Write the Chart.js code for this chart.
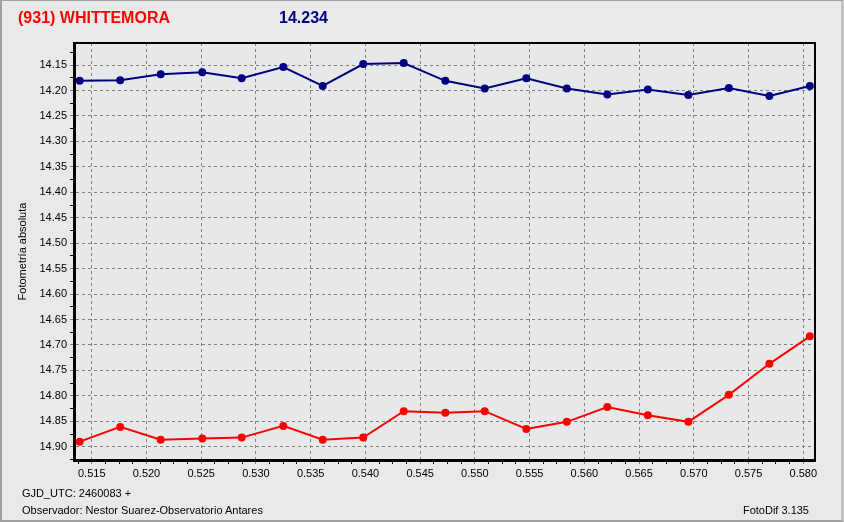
<!DOCTYPE html>
<html>
<head>
<meta charset="utf-8">
<script src="https://cdn.jsdelivr.net/npm/chart.js@4/dist/chart.umd.min.js"></script>
<style>
  html, body { margin: 0; padding: 0; background: #e9e9e9; }
  #frame {
    position: absolute; left: 0; top: 0; width: 844px; height: 522px;
    box-sizing: border-box;
    border-top: 1px solid #a0a0a0; border-left: 2px solid #a0a0a0;
    border-right: 3px solid #c4c4c4; border-bottom: 2px solid #a0a0a0;
  }
  canvas { position: absolute; left: 0; top: 0; }
  .txt { position: absolute; font-family: "Liberation Sans", Arial, sans-serif; white-space: nowrap; }
  #titulo { left: 18px; top: 9px; font-size: 16px; font-weight: bold; color: #ff0000; }
  #mag { left: 279px; top: 9px; font-size: 16px; font-weight: bold; color: #000080; }
  #gjd { left: 22px; top: 487px; font-size: 11px; color: #000; }
  #obs { left: 22px; top: 504px; font-size: 11px; color: #000; }
  #ver { right: 35px; top: 504px; font-size: 11px; color: #000; }
</style>
</head>
<body>
<div id="frame"></div>
<canvas id="chart" width="844" height="522"></canvas>
<div class="txt" id="titulo">(931) WHITTEMORA</div>
<div class="txt" id="mag">14.234</div>
<div class="txt" id="gjd">GJD_UTC: 2460083 +</div>
<div class="txt" id="obs">Observador: Nestor Suarez-Observatorio Antares</div>
<div class="txt" id="ver">FotoDif 3.135</div>
<script>
// Tiempos (fraccion de dia GJD)
const tiempos = [0.5139, 0.5176, 0.5213, 0.5251, 0.5287, 0.5325, 0.5361, 0.5398, 0.5435, 0.5473,
                 0.5509, 0.5547, 0.5584, 0.5621, 0.5658, 0.5695, 0.5732, 0.5769, 0.5806];

// Serie azul (comparacion)
const serieAzul = [14.181, 14.180, 14.168, 14.164, 14.176, 14.154, 14.191, 14.148, 14.146, 14.181,
                   14.196, 14.176, 14.196, 14.208, 14.198, 14.209, 14.195, 14.211, 14.191];

// Serie roja (asteroide)
const serieRoja = [14.890, 14.861, 14.886, 14.884, 14.882, 14.859, 14.886, 14.882, 14.830, 14.833,
                   14.830, 14.865, 14.851, 14.822, 14.838, 14.851, 14.798, 14.737, 14.683];

// Marcas de los ejes
const ticksX = [0.515, 0.520, 0.525, 0.530, 0.535, 0.540, 0.545, 0.550, 0.555, 0.560, 0.565, 0.570, 0.575, 0.580];
const ticksY = [14.15, 14.20, 14.25, 14.30, 14.35, 14.40, 14.45, 14.50, 14.55, 14.60, 14.65, 14.70, 14.75, 14.80, 14.85, 14.90];

// marcas principales + secundarias entre cada par
function conSecundarias(lista, min, max, div) {
  const paso = (lista[1] - lista[0]) / div;
  const out = [];
  for (let v = lista[0] - paso * Math.floor((lista[0] - min) / paso); v <= max + 1e-9; v += paso) {
    const major = lista.some(m => Math.abs(m - v) < paso / 10);
    out.push({ value: v, major: major });
  }
  return out;
}

const fondoPlot = {
  id: 'fondoPlot',
  beforeDraw(chart) {
    const a = chart.chartArea, c = chart.ctx;
    c.save();
    c.fillStyle = '#e7e8ea';
    c.fillRect(a.left, a.top, a.right - a.left, a.bottom - a.top);
    c.restore();
  },
  afterDraw(chart) {
    const a = chart.chartArea, c = chart.ctx;
    c.save();
    c.strokeStyle = '#000';
    c.lineWidth = 2;
    c.beginPath();
    c.moveTo(a.left, a.top);
    c.lineTo(a.right, a.top);
    c.lineTo(a.right, a.bottom);
    c.stroke();
    c.restore();
  }
};

const fuente = { family: '"Liberation Sans", Arial, sans-serif', size: 11 };
const esMayor = c => c.tick && c.tick.major;

const ctx = document.getElementById('chart').getContext('2d');
const chart = new Chart(ctx, {
  type: 'line',
  data: {
    datasets: [
      {
        label: 'Comparacion',
        data: tiempos.map((t, i) => ({ x: t, y: serieAzul[i] })),
        borderColor: '#000080',
        backgroundColor: '#000080',
        borderWidth: 2,
        pointRadius: 4,
        pointBorderWidth: 0,
        fill: false
      },
      {
        label: 'Asteroide',
        data: tiempos.map((t, i) => ({ x: t, y: serieRoja[i] })),
        borderColor: '#ff0000',
        backgroundColor: '#ff0000',
        borderWidth: 2,
        pointRadius: 4,
        pointBorderWidth: 0,
        fill: false
      }
    ]
  },
  options: {
    responsive: false,
    animation: false,
    layout: { padding: { left: 0, top: 43, right: 29, bottom: 40 } },
    plugins: { legend: { display: false }, tooltip: { enabled: false } },
    scales: {
      x: {
        type: 'linear',
        min: 0.51338,
        max: 0.58107,
        afterBuildTicks: s => { s.ticks = conSecundarias(ticksX, s.min, s.max, 4); },
        afterFit: s => { s.height = 22; },
        ticks: {
          autoSkip: false, maxRotation: 0, padding: 3, color: '#000', font: fuente,
          callback: (v, i, t) => t[i].major ? v.toFixed(3) : ''
        },
        grid: {
          color: c => esMayor(c) ? '#808080' : 'rgba(0,0,0,0)',
          tickColor: c => esMayor(c) ? '#808080' : '#000',
          tickLength: 4,
          lineWidth: 1
        },
        border: { color: '#000', width: 3, dash: [3, 3] }
      },
      y: {
        type: 'linear',
        reverse: true,
        min: 14.1067,
        max: 14.926,
        afterBuildTicks: s => { s.ticks = conSecundarias(ticksY, s.min, s.max, 2); },
        afterFit: s => { s.width = 74; },
        ticks: {
          autoSkip: false, padding: 3, color: '#000', font: fuente,
          callback: (v, i, t) => t[i].major ? v.toFixed(2) : ''
        },
        grid: {
          color: c => esMayor(c) ? '#808080' : 'rgba(0,0,0,0)',
          tickColor: c => esMayor(c) ? '#808080' : '#000',
          tickLength: 4,
          lineWidth: 1
        },
        border: { color: '#000', width: 3, dash: [3, 3] },
        title: {
          display: true,
          text: 'Fotometría absoluta',
          color: '#000',
          font: fuente,
          padding: { top: 16, bottom: 0 }
        }
      }
    }
  },
  plugins: [fondoPlot]
});
</script>
</body>
</html>
